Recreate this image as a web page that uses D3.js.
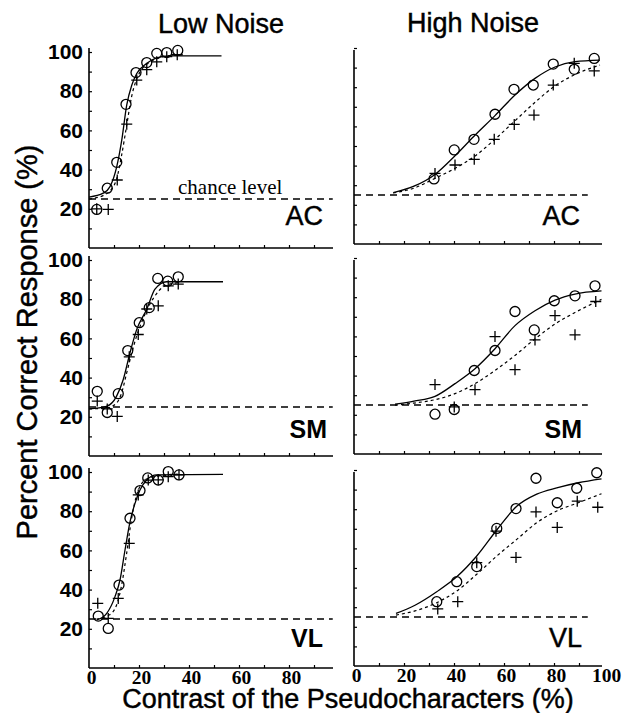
<!DOCTYPE html>
<html><head><meta charset="utf-8">
<script src="https://cdn.jsdelivr.net/npm/d3@7/dist/d3.min.js"></script>
<style>body{margin:0;background:#fff}</style>
</head><body><svg id="c" width="635" height="713"></svg>
<script>
// ---------- DATA ----------
const columnTitles = ["Low Noise", "High Noise"];
const rowLabels = ["AC", "SM", "VL"];
const yTickLabels = [20, 40, 60, 80, 100];
const xTickLabelsLow = [0, 20, 40, 60, 80];
const xTickLabelsHigh = [0, 20, 40, 60, 80, 100];
const chanceLevel = 25;

// AC, low noise
const acLowCircleX = [3.1, 7.3, 11.1, 14.8, 18.8, 23.1, 27.1, 31.1, 35.5];
const acLowCircleY = [19.7, 30.5, 43.7, 73.3, 89.5, 94.6, 99.3, 99.7, 100.8];
const acLowCrossX = [3.1, 7.7, 11.3, 15.1, 19.1, 23.1, 27.1, 31.1, 35.3];
const acLowCrossY = [20, 19.7, 34.7, 63.2, 85.7, 91, 95, 97.6, 98.6];
const acLowSolidX = [0, 5.7, 8.4, 11.1, 13.1, 15.1, 17.1, 19.1, 23.1, 27.1, 32, 53];
const acLowSolidY = [26, 28, 31.3, 41.5, 55, 73, 83, 89, 94.2, 97, 98, 98];
const acLowDashX = [0, 6, 9, 11, 13, 15, 17, 19, 21, 24, 28, 35];
const acLowDashY = [25, 27, 30, 35, 47, 62, 77, 86, 91, 94.5, 97, 98.5];

// SM, low noise
const smLowCircleX = [3.3, 7.3, 11.7, 15.5, 20.1, 24.1, 27.5, 31.5, 35.7];
const smLowCircleY = [33, 22.2, 31.8, 53.8, 68, 75.7, 90.6, 89.2, 91.4];
const smLowCrossX = [3.3, 7.3, 11.3, 16.1, 19.7, 23.1, 27.7, 31.7, 35.7];
const smLowCrossY = [28, 24, 20.2, 50.6, 62, 75, 76.6, 86.8, 87.7];
const smLowSolidX = [0, 7, 11, 13.7, 16.4, 19.1, 23.1, 26.4, 31, 53.6];
const smLowSolidY = [24, 25.3, 30.4, 39, 52.7, 64.6, 74.9, 85.1, 88.9, 88.9];
const smLowDashX = [0, 7, 11, 13, 15, 17, 19, 21, 23, 26, 30, 36];
const smLowDashY = [24, 24.5, 27, 32, 42, 52, 61, 68, 74, 81, 86.5, 88.5];

// VL, low noise
const vlLowCircleX = [3.7, 7.7, 12, 16.4, 20.4, 23.5, 27.7, 31.7, 36];
const vlLowCircleY = [26.5, 20.2, 42.3, 76.4, 90.5, 97, 95.9, 100.2, 98.5];
const vlLowCrossX = [3.5, 7.7, 11.7, 16.1, 19.7, 23.7, 27.7, 31.7, 36];
const vlLowCrossY = [33, 25.3, 35.5, 63.6, 88.3, 95.9, 96, 97.6, 98.6];
const vlLowSolidX = [3.1, 7.1, 10.4, 12.4, 14.4, 16.4, 18.4, 20.4, 23.1, 27.1, 53.6];
const vlLowSolidY = [24.5, 27.9, 36.4, 44.9, 60.2, 74.6, 84, 90.8, 95.9, 98.5, 98.8];
const vlLowDashX = [3, 8, 11, 13, 15, 17, 19, 21, 24, 28, 36];
const vlLowDashY = [25, 27, 32, 42, 58, 76, 88, 94, 97, 98, 99];

// AC, high noise
const acHighCircleX = [32, 40.1, 48, 56.4, 64, 71.7, 79.7, 88.1, 96.1];
const acHighCircleY = [33.2, 48, 53.4, 66.2, 78.9, 81.1, 91.8, 89.1, 94.7];
const acHighCrossX = [32.4, 40.4, 48.1, 56.1, 64.1, 72, 79.7, 88.1, 96.1];
const acHighCrossY = [36, 40.3, 43.2, 53.4, 61, 65.8, 81.1, 92.2, 88.3];
const acHighSolidX = [15.7, 24, 32.4, 40.4, 48, 56.4, 64.4, 72.4, 80.4, 88.4, 98.4];
const acHighSolidY = [26.2, 29.5, 35.5, 45, 55, 65.5, 76, 84.5, 90.3, 93, 93.8];
const acHighDashX = [15.7, 24, 32.4, 40.4, 48, 56, 64, 72, 80, 88, 98.4];
const acHighDashY = [26, 28.5, 33.5, 38.6, 44.5, 53, 62.4, 71.8, 80.3, 86.2, 91.3];

// SM, high noise
const smHighCircleX = [32.4, 40.1, 48.1, 56.4, 64.4, 72.1, 80.1, 88.4, 96.4];
const smHighCircleY = [20.3, 22.7, 42.6, 52.8, 72.7, 63.3, 78.2, 80.7, 85.8];
const smHighCrossX = [32.4, 40.1, 48.4, 56.4, 64.4, 72.4, 80.4, 88.4, 96.7];
const smHighCrossY = [35.4, 24, 32.8, 59.9, 43, 58.2, 70.6, 60.8, 77.8];
const smHighSolidX = [16.4, 24, 32.4, 40.4, 48.4, 56.4, 64.4, 72.4, 80.4, 88.4, 99];
const smHighSolidY = [25.4, 27, 29.4, 35.9, 43.5, 53.7, 65.5, 73.1, 78.5, 81.6, 83.2];
const smHighDashX = [16.4, 24, 32.4, 40.4, 48.4, 56.4, 64.4, 72.4, 80.4, 88.4, 99];
const smHighDashY = [24.9, 26, 27.7, 30.8, 35.9, 42.6, 50.3, 58.7, 66.3, 72.2, 78.9];

// VL, high noise
const vlHighCircleX = [33.1, 41.1, 49.1, 57.1, 64.8, 72.8, 81.3, 89.1, 97.1];
const vlHighCircleY = [32.8, 43, 50.7, 70.2, 80.3, 95.8, 83.3, 90.7, 98.6];
const vlHighCrossX = [33.5, 41.5, 49.1, 56.8, 64.8, 72.8, 81.3, 89.3, 97.5];
const vlHighCrossY = [29.1, 32.8, 52.7, 68.8, 55.4, 78.6, 70.7, 84.1, 81];
const vlHighSolidX = [16.8, 24.4, 33.1, 41.1, 49.1, 57.1, 65.1, 73.1, 81.1, 89.7, 99];
const vlHighSolidY = [26.8, 31, 37.9, 45.5, 56.1, 69.4, 81.5, 87.7, 90.9, 93.5, 95.5];
const vlHighDashX = [16.8, 24.4, 33.1, 41.1, 49.1, 57.1, 65.1, 73.1, 81.1, 89.7, 99];
const vlHighDashY = [26, 28.1, 32.3, 38.3, 46.8, 56.1, 64.6, 73.1, 79.1, 83.3, 87.9];

// ---------- PANEL TABLE built from the arrays ----------
const zip = (xs, ys) => xs.map((x, i) => [x, ys[i]]);
const panels = [
  {row:0,col:0,label:rowLabels[0],bold:false,circ:zip(acLowCircleX,acLowCircleY),cross:zip(acLowCrossX,acLowCrossY),solid:zip(acLowSolidX,acLowSolidY),dash:zip(acLowDashX,acLowDashY)},
  {row:1,col:0,label:rowLabels[1],bold:true, circ:zip(smLowCircleX,smLowCircleY),cross:zip(smLowCrossX,smLowCrossY),solid:zip(smLowSolidX,smLowSolidY),dash:zip(smLowDashX,smLowDashY)},
  {row:2,col:0,label:rowLabels[2],bold:true, circ:zip(vlLowCircleX,vlLowCircleY),cross:zip(vlLowCrossX,vlLowCrossY),solid:zip(vlLowSolidX,vlLowSolidY),dash:zip(vlLowDashX,vlLowDashY)},
  {row:0,col:1,label:rowLabels[0],bold:false,circ:zip(acHighCircleX,acHighCircleY),cross:zip(acHighCrossX,acHighCrossY),solid:zip(acHighSolidX,acHighSolidY),dash:zip(acHighDashX,acHighDashY)},
  {row:1,col:1,label:rowLabels[1],bold:true, circ:zip(smHighCircleX,smHighCircleY),cross:zip(smHighCrossX,smHighCrossY),solid:zip(smHighSolidX,smHighSolidY),dash:zip(smHighDashX,smHighDashY)},
  {row:2,col:1,label:rowLabels[2],bold:false,circ:zip(vlHighCircleX,vlHighCircleY),cross:zip(vlHighCrossX,vlHighCrossY),solid:zip(vlHighSolidX,vlHighSolidY),dash:zip(vlHighDashX,vlHighDashY)}
];

// ---------- LAYOUT ----------
const colX0 = [89, 354];
const rowY0 = [[248, 244], [456, 454], [668, 666]];
const plotW = 250, plotH = 196;
const xAxisEnd = [97.6, 99.2];
const yAxisTop = [102, 99];
const chanceEnd = [97.5, 93.5];
const labelRight = [[323, 580], [327, 582], [323, 582]];
const labelBase = [225, 438, 647];

const sans = "'Liberation Sans', Arial, Helvetica, sans-serif";
const serif = "'Liberation Serif', 'Times New Roman', serif";
const svg = d3.select("#c");

// heavier look for regular-weight sans text (scanned print)
const heavy = sel => sel.attr("stroke", "#000").attr("stroke-width", 0.45);

panels.forEach(p => {
  const x0 = colX0[p.col], y0 = rowY0[p.row][p.col];
  const x = d3.scaleLinear().domain([0, 100]).range([x0, x0 + plotW]);
  const y = d3.scaleLinear().domain([0, 100]).range([y0, y0 - plotH]);
  const g = svg.append("g");

  // axis lines
  g.append("line").attr("x1", x(0)).attr("x2", x(0)).attr("y1", y(0)).attr("y2", y(yAxisTop[p.col]))
    .attr("stroke", "#000").attr("stroke-width", 1.6);
  g.append("line").attr("x1", x(0)).attr("x2", x(xAxisEnd[p.col])).attr("y1", y(0)).attr("y2", y(0))
    .attr("stroke", "#000").attr("stroke-width", 1.6);

  // inner ticks
  const yt = g.append("g").attr("transform", `translate(${x(0)},0)`)
    .call(d3.axisRight(y).tickValues(d3.range(10, 101, 10)).tickSize(3).tickFormat(""));
  yt.select(".domain").remove();
  const xt = g.append("g").attr("transform", `translate(0,${y(0)})`)
    .call(d3.axisTop(x).tickValues(d3.range(10, 100, 10)).tickSize(3).tickFormat(""));
  xt.select(".domain").remove();
  g.selectAll(".tick line").attr("stroke", "#000").attr("stroke-width", 1.2);

  // tick labels
  if (p.col === 0) {
    const yl = g.append("g").attr("transform", `translate(${x(0)},0)`)
      .call(d3.axisLeft(y).tickValues(yTickLabels).tickSize(0).tickPadding(6));
    yl.select(".domain").remove();
    yl.selectAll("text").attr("font-family", sans).attr("font-weight", "bold")
      .attr("font-size", 21).attr("fill", "#000");
  }
  if (p.row === 2) {
    const xl = g.append("g").attr("transform", `translate(0,${y(0)})`)
      .call(d3.axisBottom(x).tickValues(p.col === 0 ? xTickLabelsLow : xTickLabelsHigh).tickSize(0).tickPadding(2));
    xl.select(".domain").remove();
    xl.selectAll("text").attr("font-family", serif).attr("font-weight", "bold")
      .attr("font-size", 19.5).attr("fill", "#000").attr("dx", 2);
  }

  // chance level
  g.append("line").attr("x1", x(0)).attr("x2", x(chanceEnd[p.col]))
    .attr("y1", y(chanceLevel)).attr("y2", y(chanceLevel))
    .attr("stroke", "#000").attr("stroke-width", 1.5).attr("stroke-dasharray", "7,5");

  // fitted curves
  const line = d3.line().x(d => x(d[0])).y(d => y(d[1])).curve(d3.curveMonotoneX);
  g.append("path").attr("d", line(p.solid)).attr("fill", "none").attr("stroke", "#000").attr("stroke-width", 1.3);
  g.append("path").attr("d", line(p.dash)).attr("fill", "none").attr("stroke", "#000")
    .attr("stroke-width", 1.2).attr("stroke-dasharray", "3,3");

  // circles
  g.selectAll(".circ").data(p.circ).enter().append("circle")
    .attr("cx", d => x(d[0])).attr("cy", d => y(d[1])).attr("r", 5)
    .attr("fill", "none").attr("stroke", "#000").attr("stroke-width", 1.3);
  // crosses
  const s = 5.5;
  g.selectAll(".cross").data(p.cross).enter().append("path")
    .attr("d", d => `M${x(d[0]) - s},${y(d[1])}H${x(d[0]) + s}M${x(d[0])},${y(d[1]) - s}V${y(d[1]) + s}`)
    .attr("fill", "none").attr("stroke", "#000").attr("stroke-width", 1.3);

  // condition label
  const t = g.append("text").attr("x", labelRight[p.row][p.col]).attr("y", labelBase[p.row])
    .attr("text-anchor", "end").attr("font-family", sans)
    .attr("font-weight", p.bold ? "bold" : "normal")
    .attr("font-size", p.bold ? 25 : 27).attr("fill", "#000").text(p.label);
  if (!p.bold) heavy(t);

  if (p.row === 0 && p.col === 0) {
    g.append("text").attr("x", 178).attr("y", y(chanceLevel) - 5)
      .attr("font-family", serif).attr("font-size", 21).attr("fill", "#000").text("chance level");
  }
});

// column titles
heavy(svg.append("text").attr("x", 221).attr("y", 33).attr("text-anchor", "middle")
  .attr("font-family", sans).attr("font-size", 27).attr("fill", "#000").text(columnTitles[0]));
heavy(svg.append("text").attr("x", 473).attr("y", 32).attr("text-anchor", "middle")
  .attr("font-family", sans).attr("font-size", 27).attr("fill", "#000").text(columnTitles[1]));

// axis titles
heavy(svg.append("text").attr("transform", "translate(37,342) rotate(-90)").attr("text-anchor", "middle")
  .attr("font-family", sans).attr("font-size", 29).attr("fill", "#000").text("Percent Correct Response (%)"));
heavy(svg.append("text").attr("x", 348).attr("y", 708).attr("text-anchor", "middle")
  .attr("font-family", sans).attr("font-size", 27).attr("fill", "#000").text("Contrast of the Pseudocharacters (%)"));
</script></body></html>
